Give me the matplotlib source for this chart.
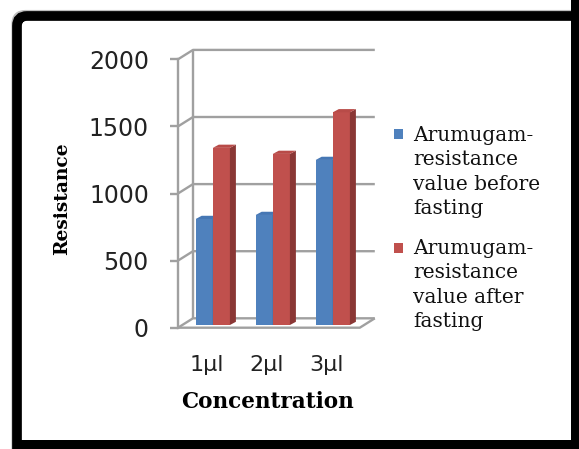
import matplotlib.pyplot as plt
from matplotlib.patches import Polygon, FancyBboxPatch, Rectangle
import numpy as np

concentrations = ['1µl', '2µl', '3µl']
before_fasting = [790, 820, 1230]
after_fasting = [1320, 1275, 1585]
series_labels = ['Arumugam-\nresistance\nvalue before\nfasting',
                 'Arumugam-\nresistance\nvalue after\nfasting']
y_ticks = [0, 500, 1000, 1500, 2000]

front_colors = ['#4f81bd', '#c0504d']
side_colors = ['#385d8a', '#8a3735']
top_colors = ['#4677b4', '#b84b48']
grid_color = '#a0a0a0'

fig = plt.figure(figsize=(5.79, 4.49), dpi=100)

# thick black frame, soft edge on the outside; right/bottom run off the edge
fig.patches.append(FancyBboxPatch((0.135, -0.2), 5.9, 4.57,
                                  boxstyle='round,pad=0,rounding_size=0.12',
                                  transform=fig.dpi_scale_trans, fill=False,
                                  ec='black', lw=3, alpha=0.25))
fig.patches.append(FancyBboxPatch((0.17, -0.2), 5.9, 4.53,
                                  boxstyle='round,pad=0,rounding_size=0.1',
                                  transform=fig.dpi_scale_trans, fill=False,
                                  ec='black', lw=7))
fig.patches.append(Rectangle((5.71, 0), 0.5, 4.49, transform=fig.dpi_scale_trans,
                             fc='black', ec='none'))
fig.patches.append(Rectangle((0.17, -0.3), 6.0, 0.39, transform=fig.dpi_scale_trans,
                             fc='black', ec='none'))

ax = fig.add_axes([178 / 579, 121.3 / 449, 181.8 / 579, 268.4 / 449])
x_lo, x_hi = -0.58, 2.45
ax.set_xlim(x_lo, x_hi)
ax.set_ylim(0, 2000)
ax.patch.set_visible(False)

# fake depth: walls/floor offset and column offset (data units)
wall_dx, wall_dy = 0.25, 70
bar_dx, bar_dy = 0.1, 24
bar_w = 0.285
bar_base = 20

line_kw = dict(color=grid_color, lw=1.7, clip_on=False, zorder=1,
               solid_capstyle='butt')
for v in y_ticks:
    ax.plot([x_lo, x_lo + wall_dx, x_hi + wall_dx],
            [v, v + wall_dy, v + wall_dy], **line_kw)
ax.plot([x_lo + wall_dx] * 2, [wall_dy, 2000 + wall_dy], **line_kw)
ax.plot([x_lo, x_hi, x_hi + wall_dx], [0, 0, wall_dy], **line_kw)

x = np.arange(len(concentrations))
for i, vals in enumerate([before_fasting, after_fasting]):
    left = x - bar_w + i * bar_w
    ax.bar(left, vals, width=bar_w, bottom=bar_base, align='edge',
           color=front_colors[i], zorder=3 + i)
    for l, v in zip(left, vals):
        r = l + bar_w
        top = bar_base + v
        ax.add_patch(Polygon([(r, bar_base), (r + bar_dx, bar_base + bar_dy),
                              (r + bar_dx, top + bar_dy), (r, top)],
                             closed=True, fc=side_colors[i], ec='none',
                             zorder=3 + i))
        ax.add_patch(Polygon([(l, top), (r, top), (r + bar_dx, top + bar_dy),
                              (l + bar_dx, top + bar_dy)],
                             closed=True, fc=top_colors[i], ec='none',
                             zorder=3 + i))

for side in ['top', 'right', 'bottom']:
    ax.spines[side].set_visible(False)
ax.spines['left'].set_color(grid_color)
ax.spines['left'].set_linewidth(1.7)

ax.set_yticks(y_ticks)
ax.tick_params(axis='y', length=6, width=1.7, color=grid_color, pad=15,
               labelsize=17, labelcolor='#222222')
ax.set_xticks(x - 0.1)
ax.set_xticklabels(concentrations)
ax.tick_params(axis='x', length=0, pad=20, labelsize=16, labelcolor='#222222')

fig.text(62 / 579, 1 - 199 / 449, 'Resistance', family='DejaVu Serif',
         weight='bold', fontsize=13.4, rotation=90, ha='center', va='center')
fig.text(267 / 579, 1 - 402 / 449, 'Concentration', family='DejaVu Serif',
         weight='bold', fontsize=15.5, ha='center', va='center')

# legend
for label, color, sq_y, txt_y in zip(series_labels, front_colors,
                                     [134, 248], [172, 285]):
    fig.patches.append(Rectangle((394 / 579, 1 - (sq_y + 5) / 449),
                                 9 / 579, 10 / 449, transform=fig.transFigure,
                                 fc=color, ec='none'))
    fig.text(413 / 579, 1 - txt_y / 449, label, family='DejaVu Serif',
             fontsize=14.5, linespacing=1.34, ha='left', va='center',
             color='#111111')

fig.savefig('out.png', dpi=100)
